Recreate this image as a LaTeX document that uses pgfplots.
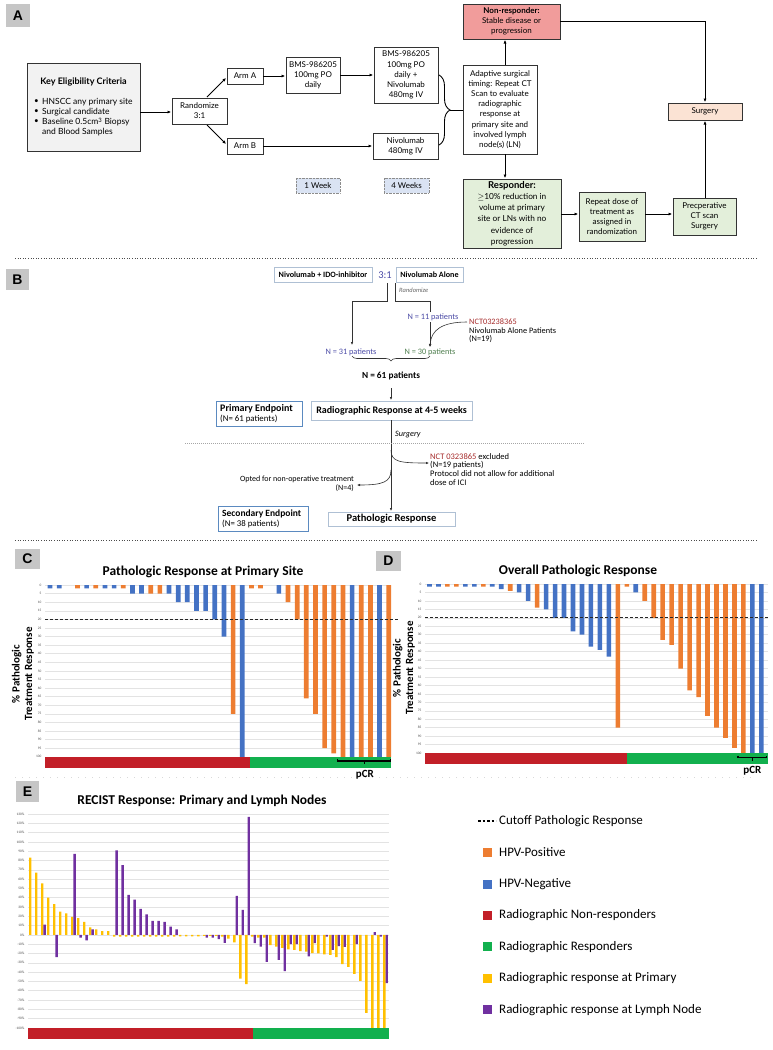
\documentclass[border=0pt]{standalone}
\usepackage{pgfplots}
\pgfplotsset{compat=1.18}
\usepackage{fontspec}
\setmainfont{Carlito}
\newfontfamily\flow{Lato}
\newfontfamily\arial{Liberation Sans}
\usetikzlibrary{arrows.meta,decorations.pathreplacing}

\definecolor{hpvpos}{HTML}{ED7D31}
\definecolor{hpvneg}{HTML}{4472C4}
\definecolor{nonresp}{HTML}{C21F28}
\definecolor{resp}{HTML}{12B04E}
\definecolor{prim}{HTML}{FFC000}
\definecolor{lymph}{HTML}{7030A0}
\definecolor{gridc}{HTML}{E3E3E3}
\definecolor{nrbox}{HTML}{F19C9B}
\definecolor{rbox}{HTML}{E3EFDA}
\definecolor{surg}{HTML}{FBE3D4}
\definecolor{wkbox}{HTML}{DAE3F3}
\definecolor{keyg}{HTML}{F2F2F2}
\definecolor{labg}{HTML}{C6C6C6}
\definecolor{bbl}{HTML}{5B8AC0}
\definecolor{lbl}{HTML}{AFC0D4}
\definecolor{nblue}{HTML}{4B4BA6}
\definecolor{ngreen}{HTML}{4E7E4E}
\definecolor{nred}{HTML}{A52A2A}

\tikzset{
  bx/.style={draw=black!80, line width=0.8pt},
  ft/.style={font=\flow\fontsize{8}{10.1}\selectfont, align=center, inner sep=0pt},
  bt/.style={font=\fontsize{8.3}{9}\selectfont, inner sep=0pt},
  ar/.style={-{Latex[length=3.5pt,width=3.2pt]}, line width=0.9pt},
  tar/.style={-{Latex[length=3pt,width=2.6pt]}, line width=0.6pt, black!80},
  sep/.style={draw=black!70, line width=1pt, dash pattern=on 1pt off 1.6pt},
  leg/.style={anchor=west, font=\fontsize{13}{13}\selectfont, inner sep=1pt},
  ttl/.style={font=\bfseries\fontsize{13.5}{13.5}\selectfont},
}
\newcommand\fbx[7][]{\draw[bx,fill=#6] (#2,#3) rectangle (#4,#5);
  \node[ft,#1] at ({(#2+#4)/2},{(#3+#5)/2}) {#7};}
\newcommand\plab[5]{\fill[labg] (#1,#2) rectangle (#3,#4);
  \node[font=\arial\bfseries\fontsize{14}{14}\selectfont] at ({(#1+#3)/2},{(#2+#4)/2}) {#5};}

\pgfplotsset{wf/.style={scale only axis, anchor=south west,
  axis line style={draw=none}, major tick style={draw=none}, xtick=\empty,
  ymajorgrids, grid style={gridc, line width=0.5pt},
  yticklabel style={font=\fontsize{3.5}{3.5}\selectfont, text=black!70},
  /pgf/number format/assume math mode=true,
  clip=false, ybar}}

\begin{document}
\begin{tikzpicture}
\useasboundingbox (0pt,0pt) rectangle (772pt,-1050pt);
\begin{scope}[x=1pt,y=-1pt]
% ---------------- panel A
\plab{6}{4}{30}{27}{A}
\draw[bx, fill=keyg] (27,63) rectangle (140,151);
\node[ft, font=\flow\bfseries\fontsize{9}{10}\selectfont] at (83.5,82) {Key Eligibility Criteria};
\node[ft, anchor=west] at (34,102) {\textbullet};
\node[ft, anchor=west] at (34,112) {\textbullet};
\node[ft, anchor=west] at (34,122) {\textbullet};
\node[ft, anchor=west, font=\flow\fontsize{8.5}{10}\selectfont] at (42,102) {HNSCC any primary site};
\node[ft, anchor=west, font=\flow\fontsize{8.5}{10}\selectfont] at (42,112) {Surgical candidate};
\node[ft, anchor=west, font=\flow\fontsize{8.5}{10}\selectfont] at (42,122) {Baseline 0.5cm\textsuperscript{3} Biopsy};
\node[ft, anchor=west, font=\flow\fontsize{8.5}{10}\selectfont] at (42,132) {and Blood Samples};
\draw[ar] (140,112) -- (171,112);
\fbx{172}{98}{227}{124}{white}{Randomize\\3:1}
\draw[ar] (207,97) -- (226,78);
\draw[ar] (207,125) -- (226,144);
\fbx{227}{68}{263}{84}{white}{Arm A}
\fbx{227}{138}{263}{154}{white}{Arm B}
\draw[ar] (263,76) -- (285,76);
\fbx{286}{57}{340}{93}{white}{BMS-986205\\100mg PO\\daily}
\draw[ar] (340,75) -- (373,75);
\fbx{374}{47}{438}{103}{white}{BMS-986205\\100mg PO\\daily +\\Nivolumab\\480mg IV}
\draw[ar] (263,146) -- (372,146);
\fbx{373}{133}{438}{159}{white}{Nivolumab\\480mg IV}
\draw[line width=0.9pt, decorate, decoration={brace, amplitude=11pt}] (439,75) -- (439,145);
\draw[line width=0.9pt] (450,110) -- (463,110);
\fbx{463}{65}{537}{154}{white}{Adaptive surgical\\timing: Repeat CT\\Scan to evaluate\\radiographic\\response at\\primary site and\\involved lymph\\node(s) (LN)}
\fbx{463}{4}{560}{39}{nrbox}{\textbf{Non-responder:}\\Stable disease or\\progression}
\draw[ar] (505,65) -- (505,40);
\draw[ar] (560,21) -- (705,21) -- (705,102);
\fbx{668}{103}{742}{120}{surg}{Surgery}
\draw[ar] (505,154) -- (505,178);
\fbx[font=\flow\fontsize{8.3}{11.2}\selectfont]{463}{179}{561}{248}{rbox}{{\fontsize{9.5}{11.2}\selectfont\bfseries Responder:}\\$\geq$10\% reduction in\\volume at primary\\site or LNs with no\\evidence of\\progression}
\draw[ar] (561,214) -- (578,214);
\fbx{579}{192}{645}{241}{rbox}{Repeat dose of\\treatment as\\assigned in\\randomization}
\draw[ar] (645,214) -- (672,214);
\fbx{673}{198}{736}{235}{rbox}{Precperative\\CT scan\\Surgery}
\draw[ar] (705,198) -- (705,121);
\draw[draw=black!45, densely dotted, fill=wkbox] (296,178) rectangle (340,193);
\node[ft] at (318,185.5) {1 Week};
\draw[draw=black!45, densely dotted, fill=wkbox] (384,178) rectangle (429,193);
\node[ft] at (406.5,185.5) {4 Weeks};
\draw[sep] (15,258) -- (757,258);
% ---------------- panel B
\plab{6}{269}{29}{290}{B}
\draw[draw=lbl, line width=0.8pt] (274,267) rectangle (372,282);
\node[bt, font=\bfseries\fontsize{8.1}{8}\selectfont] at (323,274.5) {Nivolumab + IDO-inhibitor};
\node[text=nblue, font=\fontsize{10.5}{10}\selectfont] at (385,275) {3:1};
\draw[draw=lbl, line width=0.8pt] (396,267) rectangle (463,282);
\node[bt, font=\bfseries\fontsize{8.1}{8}\selectfont] at (429.5,274.5) {Nivolumab Alone};
\node[bt, anchor=west, text=black!60, font=\itshape\fontsize{6.5}{6}\selectfont] at (399,290) {Randomize};
\draw[tar] (387.5,283) -- (387.5,301) -- (352,301) -- (352,345);
\draw[tar] (395,283) -- (395,301) -- (430,301) -- (430,347);
\node[bt, text=nblue, fill=white, inner sep=1pt] at (433,317) {N = 11 patients};
\node[bt, anchor=west, text=nred] at (469,322) {NCT03238365};
\node[bt, anchor=west] at (469,330.5) {Nivolumab Alone Patients};
\node[bt, anchor=west] at (469,339) {(N=19)};
\draw[tar] (467,322) .. controls (442,322) and (431,330) .. (430,347);
\node[bt, text=nblue] at (351,352) {N = 31 patients};
\node[bt, text=ngreen] at (430,352) {N = 30 patients};
\draw[line width=0.6pt, black!80, decorate, decoration={brace, amplitude=5pt}] (430,356) -- (352,356);
\node[bt, font=\bfseries\fontsize{9.3}{9}\selectfont] at (391,376) {N = 61 patients};
\draw[tar] (391,388) -- (391,400);
\draw[draw=bbl, line width=1pt] (216,401) rectangle (302,426);
\node[bt, anchor=west, font=\bfseries\fontsize{10}{10}\selectfont] at (220,408.5) {Primary Endpoint};
\node[bt, anchor=west, font=\fontsize{8.8}{9}\selectfont] at (220,418.5) {(N= 61 patients)};
\draw[draw=lbl, line width=0.8pt] (311,401) rectangle (472,420);
\node[bt, font=\bfseries\fontsize{10}{10}\selectfont] at (391.5,410.5) {Radiographic Response at 4-5 weeks};
\draw[tar] (391,420) -- (391,511);
\node[bt, anchor=west, font=\itshape\fontsize{8.2}{8}\selectfont] at (395,435) {Surgery};
\draw[black!35, line width=0.8pt, dash pattern=on 1pt off 1pt] (185,443) -- (585,443);
\draw[tar] (391,450) .. controls (391,462) and (400,463) .. (429,463);
\node[bt, anchor=west, font=\fontsize{8.5}{8}\selectfont] at (430,457) {\textcolor{nred}{NCT 0323865} excluded};
\node[bt, anchor=west, font=\fontsize{8.5}{8}\selectfont] at (430,465.5) {(N=19 patients)};
\node[bt, anchor=west, font=\fontsize{8.5}{8}\selectfont] at (430,474) {Protocol did not allow for additional};
\node[bt, anchor=west, font=\fontsize{8.5}{8}\selectfont] at (430,482.5) {dose of ICI};
\draw[tar] (391,470) .. controls (391,482) and (383,485) .. (357,485);
\node[bt, anchor=east, font=\fontsize{8}{8}\selectfont] at (354,479) {Opted for non-operative treatment};
\node[bt, anchor=east, font=\fontsize{8}{8}\selectfont] at (354,488) {(N=4)};
\draw[draw=bbl, line width=1pt] (218,506) rectangle (308,531);
\node[bt, anchor=west, font=\bfseries\fontsize{9.5}{9.5}\selectfont] at (222,514) {Secondary Endpoint};
\node[bt, anchor=west, font=\fontsize{8.8}{9}\selectfont] at (222,524) {(N= 38 patients)};
\draw[draw=lbl, line width=0.8pt] (328,512) rectangle (455,526);
\node[bt, font=\bfseries\fontsize{10.5}{10}\selectfont] at (391.5,519) {Pathologic Response};
\draw[sep] (15,540) -- (757,540);
% ---------------- panels C, D, E labels
\plab{15}{549}{40}{569}{C}
\plab{376}{551}{401}{571}{D}
\plab{16}{781}{39}{802}{E}
\node[ttl] at (203,572) {Pathologic Response at Primary Site};
\node[ttl] at (578,571) {Overall Pathologic Response};
\node[ttl] at (202,801) {RECIST Response: Primary and Lymph Nodes};
\node[rotate=90, align=center, font=\bfseries\fontsize{11}{12.5}\selectfont] at (23,674) {\% Pathologic\\Treatment Response};
\node[rotate=90, align=center, font=\bfseries\fontsize{11}{12.5}\selectfont] at (404,668) {\% Pathologic\\Treatment Response};
\draw[black!15, line width=0.8pt, dash pattern=on 1pt off 6pt] (15,777) -- (757,777);
% ---------------- legend
\draw[black, line width=1.2pt, dash pattern=on 2.5pt off 2pt] (478,821) -- (496,821);
\node[leg] at (498,821) {Cutoff Pathologic Response};
\fill[hpvpos] (483,848) rectangle (492,857);
\node[leg] at (498,852) {HPV-Positive};
\fill[hpvneg] (483,880) rectangle (492,889);
\node[leg] at (498,884) {HPV-Negative};
\fill[nonresp] (483,911) rectangle (492,920);
\node[leg] at (498,915) {Radiographic Non-responders};
\fill[resp] (483,942) rectangle (492,951);
\node[leg] at (498,947) {Radiographic Responders};
\fill[prim] (483,974) rectangle (492,983);
\node[leg] at (498,978) {Radiographic response at Primary};
\fill[lymph] (483,1005) rectangle (492,1014);
\node[leg] at (498,1010) {Radiographic response at Lymph Node};
\end{scope}

% ---------------- C
\begin{axis}[wf, width=346pt, height=184.6pt, at={(45pt,-767.9pt)},
  xmin=-0.55, xmax=37.25, ymin=-1, ymax=106.5, y dir=reverse,
  ytick={0,5,...,100}, bar width=4.7pt]
\addplot[fill=hpvpos, draw=none, bar shift=0pt] coordinates {
(3,2)(5,2)(8,2)(11,5)(12,5)(20,75)(22,2)(23,2)(26,10)(27,20)(28,66)
(29,75)(30,95)(31,98)(32,100)(34,100)(35,100)(37,100)};
\addplot[fill=hpvneg, draw=none, bar shift=0pt] coordinates {
(0,2)(1,2)(4,2)(6,2)(7,2)(9,5)(10,5)(13,5)(14,10)(15,10)(16,15)(17,15)
(18,20)(19,30)(21,100)(25,5)(33,100)(36,100)};
\fill[nonresp] (axis cs:-0.55,100) rectangle (axis cs:21.9,106.5);
\fill[resp] (axis cs:21.9,100) rectangle (axis cs:37.25,106.5);
\draw[black!85, line width=0.8pt, dash pattern=on 3pt off 2pt] (axis cs:-0.55,20) -- (axis cs:38.2,20);
\draw[line width=1.1pt] (axis cs:31.4,101.3) -- (axis cs:31.4,102.5) -- (axis cs:37.2,102.5) -- (axis cs:37.2,101.3);
\draw[line width=1.1pt] (axis cs:34.4,102.5) -- (axis cs:34.4,104.3);
\node[font=\bfseries\fontsize{11}{11}\selectfont] at (axis cs:34.4,110.5) {pCR};
\end{axis}

% ---------------- D
\begin{axis}[wf, width=343pt, height=181.7pt, at={(425pt,-764pt)},
  xmin=-0.5, xmax=37.74, ymin=-1, ymax=106.5, y dir=reverse,
  ytick={0,5,...,100}, bar width=4.6pt]
\addplot[fill=hpvpos, draw=none, bar shift=0pt] coordinates {
(2,1.5)(3,1.5)(6,1.5)(9,4)(12,14)(21,85)(22,1.5)(24,10)(25,20)(26,33)
(27,36)(28,50)(29,63)(30,67)(31,78)(32,85)(33,91)(34,97)(35,100)};
\addplot[fill=hpvneg, draw=none, bar shift=0pt] coordinates {
(0,1.5)(1,1.5)(4,1.5)(5,1.5)(7,1.5)(8,3)(10,5)(11,10)(13,15)(14,20)
(15,20)(16,28)(17,30)(18,37)(19,39)(20,43)(23,5)(36,100)(37,100)};
\fill[nonresp] (axis cs:-0.5,100) rectangle (axis cs:22,106.5);
\fill[resp] (axis cs:22,100) rectangle (axis cs:37.74,106.5);
\draw[black!85, line width=0.8pt, dash pattern=on 3pt off 2pt] (axis cs:-0.5,20) -- (axis cs:37.74,20);
\draw[line width=1.1pt] (axis cs:34.4,101.5) -- (axis cs:34.4,102.8) -- (axis cs:37.6,102.8) -- (axis cs:37.6,101.5);
\draw[line width=1.1pt] (axis cs:36,102.8) -- (axis cs:36,104.6);
\node[font=\bfseries\fontsize{11}{11}\selectfont] at (axis cs:36,110.3) {pCR};
\end{axis}

% ---------------- E
\begin{axis}[wf, width=361pt, height=225pt, at={(28pt,-1039pt)},
  xmin=-0.58, xmax=59.58, ymin=-112, ymax=130,
  ytick={-100,-90,...,130}, yticklabel={\pgfmathprintnumber{\tick}\%},
  bar width=2.3pt]
\addplot[fill=prim, draw=none, bar shift=-1.15pt] coordinates {
(0,83)(1,67)(2,55.5)(3,40)(4,33)(5,25)(6,23)(7,19.5)(8,18)(9,14)
(10,8)(11,6)(12,4)(13,4)(14,-2)(15,-2)(16,-2)(17,-2)(18,-2)(19,-2)
(20,-2)(21,-2)(22,-2)(23,-2)(24,-2)(25,-1.5)(26,-1.5)(27,-1.5)(28,-1.5)(29,-1)
(30,-1)(31,-1)(32,-2)(33,-4)(34,-8)(35,-47)(36,-53)(37,-2)(38,-3)(39,-3)
(40,-11)(41,-12.5)(42,-14)(43,-15.5)(44,-16)(45,-17.5)(46,-18)(47,-19.5)(48,-20)(49,-21)
(50,-21.5)(51,-24)(52,-31.5)(53,-34.5)(54,-42)(55,-49.5)(56,-84)(57,-100)(58,-100)(59,-100)};
\addplot[fill=lymph, draw=none, bar shift=1.15pt] coordinates {
(2,11)(4,-24)(7,87)(8,-3)(9,-6)(10,6)(14,91)(15,75)(16,43)(17,38)
(18,28)(19,22)(20,15)(21,15)(22,14)(23,9)(24,6)(29,-3)(30,-3)(31,-4.5)
(32,-8.5)(34,42)(35,27)(36,127)(37,-9)(38,-12.5)(39,-29)(41,-27)(42,-39)(43,-10)
(44,-10)(46,-23)(47,-9)(49,-2)(50,-16)(51,-12)(52,-13)(54,-10)(57,3)(58,-2)(59,-52)};
\fill[nonresp] (axis cs:-0.58,-100) rectangle (axis cs:36.9,-112);
\fill[resp] (axis cs:36.9,-100) rectangle (axis cs:59.58,-112);
\end{axis}
\end{tikzpicture}
\end{document}
